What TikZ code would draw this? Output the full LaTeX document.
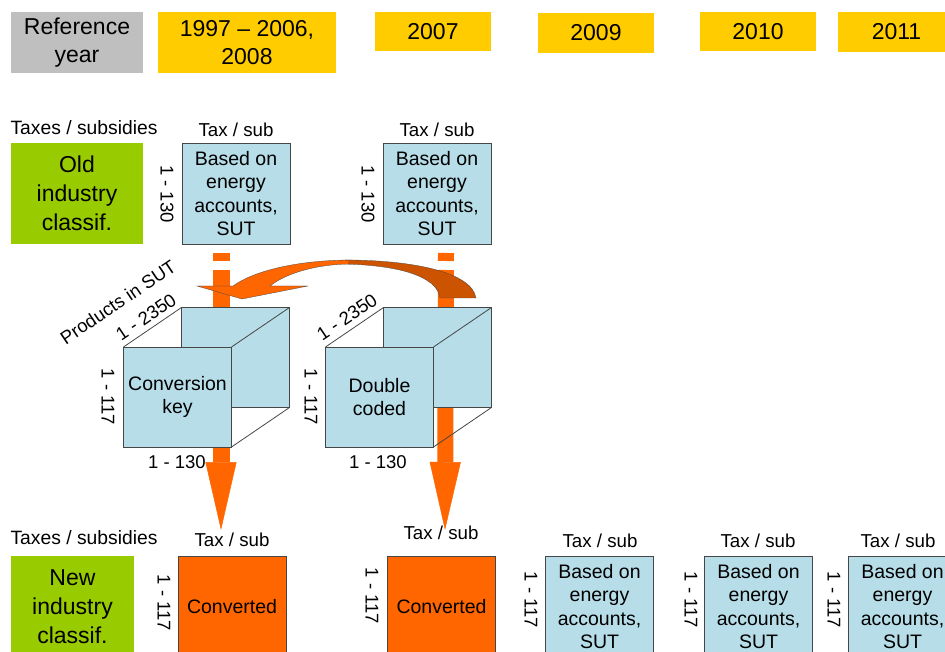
\documentclass[tikz,border=0pt]{standalone}
\usepackage{fontspec}
\setmainfont{Liberation Sans}
\usetikzlibrary {arrows.meta}
\usetikzlibrary {calc}

\definecolor{yearyellow}{RGB}{255,204,0}
\definecolor{refgray}{RGB}{191,191,191}
\definecolor{classgreen}{RGB}{153,204,0}
\definecolor{boxblue}{RGB}{183,221,232}
\definecolor{convorange}{RGB}{255,102,0}
\definecolor{darkorange}{RGB}{204,84,0}
\definecolor{edgegray}{RGB}{70,70,70}

\begin{document}
\begin{tikzpicture}[x=1pt, y=-1pt, >=Stealth,
    every node/.style={inner sep=0pt, outer sep=0pt},
    yearlbl/.style={font=\fontsize{23}{28}\selectfont, align=center},
    taxlbl/.style={font=\fontsize{18.7}{20}\selectfont},
    rangelbl/.style={font=\fontsize{18.5}{20}\selectfont},
    boxtext/.style={font=\fontsize{19.5}{23.5}\selectfont, align=center},
    databox/.style={boxtext, fill=boxblue, draw=edgegray, line width=0.8pt, minimum width=108, minimum height=101},
    convbox/.style={boxtext, fill=convorange, draw=edgegray, line width=0.8pt, minimum width=108, minimum height=101},
    classbox/.style={font=\fontsize{23}{29}\selectfont, align=center, fill=classgreen, minimum height=101},
    cubeface/.style={boxtext, fill=boxblue, draw=edgegray, line width=0.8pt, minimum width=108, minimum height=100},
    cubeedge/.style={edgegray, line width=0.8pt},
    fatarrow/.style={convorange, line width=17pt, -{Triangle[length=68pt, width=31pt, line width=0.5pt]}},
  ]
    \useasboundingbox (0,0) rectangle (945,652);
    \clip (0,0) rectangle (945,652);

    % reference years
    \node[yearlbl, fill=refgray, minimum width=132, minimum height=61] (ref) at (77,42.5) {Reference\\year};
    \node[yearlbl, fill=yearyellow, minimum width=178, minimum height=61] (y97) at (247,42.5) {1997 -- 2006,\\2008};
    \node[yearlbl, fill=yearyellow, minimum width=116, minimum height=39] (y07) at (433,31.5) {2007};
    \node[yearlbl, fill=yearyellow, minimum width=116, minimum height=40] (y09) at (596,33) {2009};
    \node[yearlbl, fill=yearyellow, minimum width=116, minimum height=39] (y10) at (758,31.5) {2010};
    \node[yearlbl, fill=yearyellow, minimum width=117, minimum height=40] (y11) at (896.5,32) {2011};

    % old classification
    \node[taxlbl, font=\fontsize{19.3}{20}\selectfont] (taxold) at (84,128) {Taxes / subsidies};
    \node[classbox, minimum width=132] (old) at (77,193.5) {Old\\industry\\classif.};
    \node[databox] (old97) at (236,193.5) {Based on\\energy\\accounts,\\SUT};
    \node[databox] (old07) at (437,193.5) {Based on\\energy\\accounts,\\SUT};
    \node[taxlbl] (tax97) at (236,130) {Tax / sub};
    \node[taxlbl] (tax07) at (437,130) {Tax / sub};
    \node[rangelbl, rotate=-90] (r97) at (167,194) {1 - 130};
    \node[rangelbl, rotate=-90] (r07) at (368,194) {1 - 130};

    % down arrows
    \coordinate (s97) at (221,253);
    \coordinate (t97) at (221,530);
    \coordinate (s07) at (446,253);
    \coordinate (t07) at (445,530);
    \draw[fatarrow, dash pattern=on 8pt off 9pt on 600pt off 1pt] (s97) -- (t97);
    \draw[fatarrow, line width=16pt, dash pattern=on 8pt off 9pt on 600pt off 1pt] (s07) -- (t07);

    % curved arrow
    \filldraw[fill=convorange, draw=edgegray, line width=0.3pt]
        (352,260) .. controls (300,260) and (255,270) .. (233,286)
        -- (197,286) -- (242,299) -- (308,286) -- (270,286)
        .. controls (285,274) and (315,264) .. (352,264);
    \filldraw[fill=darkorange, draw=edgegray, line width=0.3pt]
        (345,260) .. controls (412,260) and (472,272) .. (476,298)
        -- (440,298) .. controls (438,282) and (415,266) .. (345,264);
    \fill[convorange] (340,260.6) rectangle (348,263.6);

    % cubes
    \node[cubeface] (keyb) at (235.5,357.5) {};
    \node[cubeface] (key) at (177.5,397) {Conversion\\key};
    \draw[cubeedge] (key.north west) -- (keyb.north west)
        (key.north east) -- (keyb.north east)
        (key.south east) -- (keyb.south east);
    \node[cubeface] (dblb) at (437.5,357.5) {};
    \node[cubeface] (dbl) at (379.5,397) {Double\\coded};
    \draw[cubeedge] (dbl.north west) -- (dblb.north west)
        (dbl.north east) -- (dblb.north east)
        (dbl.south east) -- (dblb.south east);

    \node[rangelbl, rotate=34] (prod) at (118,302) {Products in SUT};
    \node[rangelbl, rotate=34] (pkey) at (146,317) {1 - 2350};
    \node[rangelbl, rotate=34] (pdbl) at (347,317) {1 - 2350};
    \node[rangelbl, rotate=-90] (ikey) at (108,397) {1 - 117};
    \node[rangelbl, rotate=-90] (idbl) at (311,397) {1 - 117};
    \node[rangelbl] (okey) at (177,462) {1 - 130};
    \node[rangelbl] (odbl) at (378,462) {1 - 130};

    % new classification
    \node[taxlbl, font=\fontsize{19.3}{20}\selectfont] (taxnew) at (84,538) {Taxes / subsidies};
    \node[classbox, minimum width=123] (new) at (72.5,606.5) {New\\industry\\classif.};
    \node[convbox] (conv97) at (232,606.5) {Converted};
    \node[convbox] (conv07) at (441.5,606.5) {Converted};
    \node[databox] (new09) at (599.5,606.5) {Based on\\energy\\accounts,\\SUT};
    \node[databox] (new10) at (758.5,606.5) {Based on\\energy\\accounts,\\SUT};
    \node[databox] (new11) at (902.5,606.5) {Based on\\energy\\accounts,\\SUT};
    \node[taxlbl] (tc97) at (232,540) {Tax / sub};
    \node[taxlbl] (tc07) at (441,533) {Tax / sub};
    \node[taxlbl] (tn09) at (600,541) {Tax / sub};
    \node[taxlbl] (tn10) at (758,541) {Tax / sub};
    \node[taxlbl] (tn11) at (898,541) {Tax / sub};
    \node[rangelbl, rotate=-90] (c97) at (164,603) {1 - 117};
    \node[rangelbl, rotate=-90] (c07) at (372,596) {1 - 117};
    \node[rangelbl, rotate=-90] (n09) at (531,600) {1 - 117};
    \node[rangelbl, rotate=-90] (n10) at (691,600) {1 - 117};
    \node[rangelbl, rotate=-90] (n11) at (834,600) {1 - 117};
\end{tikzpicture}
\end{document}
